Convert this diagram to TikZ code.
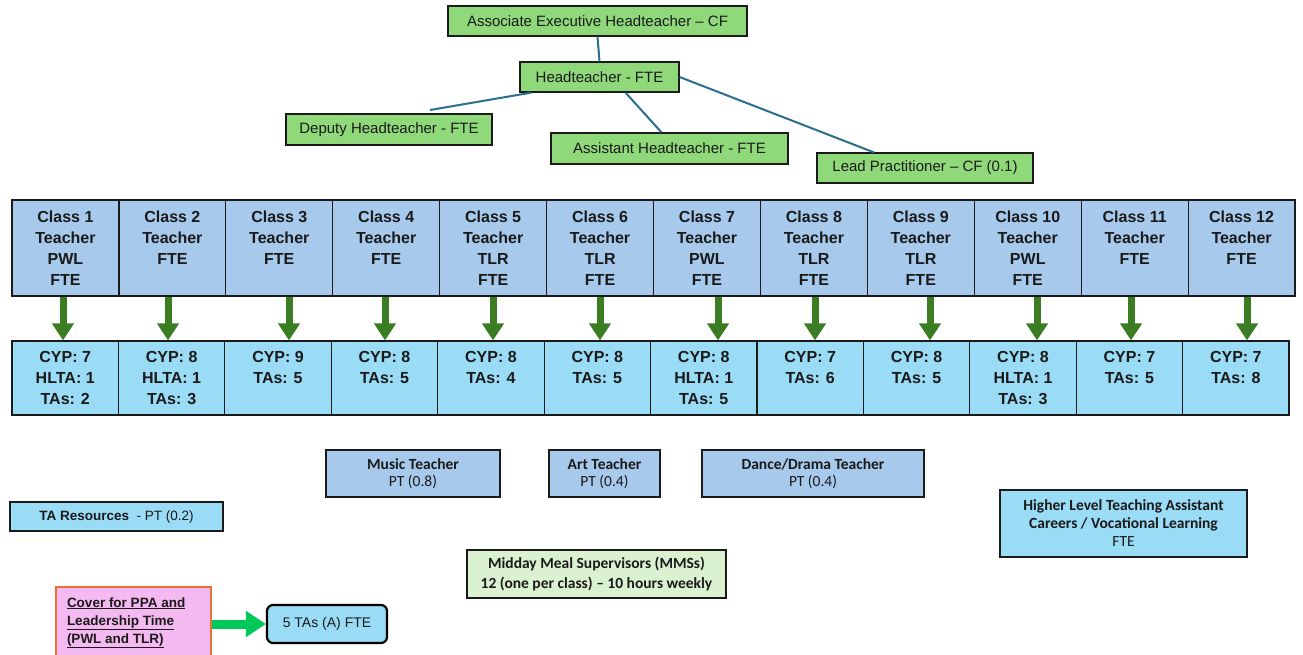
\documentclass[tikz,border=0pt]{standalone}
\usepackage{fontspec}
\setmainfont{Liberation Sans}
\newfontfamily\narrowf{Carlito}
\usetikzlibrary{arrows.meta,calc}
\definecolor{topgreen}{HTML}{8FD97A}
\definecolor{classblue}{HTML}{A6C9EC}
\definecolor{cyan}{HTML}{9ADBF5}
\definecolor{mintgreen}{HTML}{DAF2D0}
\definecolor{pinkfill}{HTML}{F4B9F0}
\definecolor{orangeline}{HTML}{E97132}
\definecolor{tealline}{HTML}{2B6E8F}
\definecolor{arrowgreen}{HTML}{3A7D22}
\definecolor{brightgreen}{HTML}{00C85A}
\definecolor{ink}{HTML}{1A1A1A}
\begin{document}
\begin{tikzpicture}[x=1pt,y=-1pt,
  basebox/.style={draw=ink, line width=1.2pt, inner sep=0pt, align=center, text=ink},
  topbox/.style={basebox, fill=topgreen, minimum height=30pt, font=\fontsize{15}{18}\selectfont},
  classbox/.style={basebox, fill=classblue, minimum width=106.92pt, minimum height=96pt, font=\bfseries\fontsize{16}{21}\selectfont},
  cypbox/.style={basebox, fill=cyan, minimum width=106.42pt, minimum height=74pt, font=\bfseries\fontsize{16}{21}\selectfont},
  subjbox/.style={basebox, fill=classblue, minimum height=47pt, font=\narrowf\fontsize{15.5}{17.5}\selectfont},
  conn/.style={draw=tealline, line width=2pt},
  garrow/.style={draw=arrowgreen, line width=7pt, -{Triangle[width=21pt,length=17pt]}, arrowgreen},
  barrow/.style={draw=brightgreen, line width=9pt, -{Triangle[width=25pt,length=20pt]}, brightgreen}
]
\useasboundingbox (0,0) rectangle (1303,654);
\fill[white] (0,0) rectangle (1303,654);

% top management
\node[topbox, minimum width=299pt] (assoc) at (597.5,21) {Associate Executive Headteacher – CF};
\node[topbox, minimum width=159pt] (ht) at (599.5,77) {Headteacher - FTE};
\node[topbox, minimum width=206pt, minimum height=31pt] (dep) at (389,129.5) {Deputy Headteacher - FTE};
\node[topbox, minimum width=237pt, minimum height=31pt] (asst) at (669.5,148.5) {Assistant Headteacher - FTE};
\node[topbox, minimum width=216pt] (lead) at (925,168) {Lead Practitioner – CF (0.1)};

\coordinate (depend) at (430,110);
\draw[conn] (assoc.south) -- (ht.north);
\draw[conn] ($(ht.south west)+(12,0)$) -- (depend);
\draw[conn] ($(ht.south)+(26,0)$) -- ($(asst.north)+(-8,0)$);
\draw[conn] (ht.east) -- ($(lead.north)+(-51,0)$);

% class teachers
\foreach \i/\txt in {
  1/{Class 1\\Teacher\\PWL\\FTE},
  2/{Class 2\\Teacher\\FTE\\~},
  3/{Class 3\\Teacher\\FTE\\~},
  4/{Class 4\\Teacher\\FTE\\~},
  5/{Class 5\\Teacher\\TLR\\FTE},
  6/{Class 6\\Teacher\\TLR\\FTE},
  7/{Class 7\\Teacher\\PWL\\FTE},
  8/{Class 8\\Teacher\\TLR\\FTE},
  9/{Class 9\\Teacher\\TLR\\FTE},
  10/{Class 10\\Teacher\\PWL\\FTE},
  11/{Class 11\\Teacher\\FTE\\~},
  12/{Class 12\\Teacher\\FTE\\~}}
{
  \node[classbox] (c\i) at ({12+106.92*(\i-0.5)},248) {\txt};
}

% pupils and TAs
\foreach \i/\txt in {
  1/{CYP: 7\\HLTA: 1\\TAs: 2},
  2/{CYP: 8\\HLTA: 1\\TAs: 3},
  3/{CYP: 9\\TAs: 5\\~},
  4/{CYP: 8\\TAs: 5\\~},
  5/{CYP: 8\\TAs: 4\\~},
  6/{CYP: 8\\TAs: 5\\~},
  7/{CYP: 8\\HLTA: 1\\TAs: 5},
  8/{CYP: 7\\TAs: 6\\~},
  9/{CYP: 8\\TAs: 5\\~},
  10/{CYP: 8\\HLTA: 1\\TAs: 3},
  11/{CYP: 7\\TAs: 5\\~},
  12/{CYP: 7\\TAs: 8\\~}}
{
  \node[cypbox] (l\i) at ({12+106.42*(\i-0.5)},378) {\txt};
}

% arrows teacher -> class
\foreach \i/\ax in {1/63,2/168,3/289,4/385,5/493,6/600,7/718,8/815,9/930,10/1037,11/1131,12/1247}
{
  \coordinate (a\i) at (\ax,0);
  \draw[garrow] (c\i.south -| a\i) -- (l\i.north -| a\i);
}

% specialist teachers
\node[subjbox, minimum width=174pt] (music) at (413,473.5) {\bfseries Music Teacher\\PT (0.8)};
\node[subjbox, minimum width=111pt] (art) at (604.5,473.5) {\bfseries Art Teacher\\PT (0.4)};
\node[subjbox, minimum width=222pt] (dance) at (813,473.5) {\bfseries Dance/Drama Teacher\\PT (0.4)};

\node[basebox, fill=cyan, minimum width=213pt, minimum height=29pt, font=\fontsize{13.5}{16}\selectfont] (tares) at (116.5,516.5) {\textbf{TA Resources}\ \ - PT (0.2)};

\node[basebox, fill=mintgreen, minimum width=259pt, minimum height=48pt, font=\narrowf\bfseries\fontsize{15.5}{20}\selectfont] (mms) at (596.5,574) {Midday Meal Supervisors (MMSs)\\12 (one per class) – 10 hours weekly};

\node[basebox, fill=cyan, minimum width=247pt, minimum height=67pt, font=\narrowf\fontsize{15.5}{18}\selectfont] (hlta) at (1123.5,523.5) {\bfseries Higher Level Teaching Assistant\\\bfseries Careers / Vocational Learning\\FTE};

% cover
\node[draw=orangeline, line width=1.2pt, fill=pinkfill, minimum width=155pt, minimum height=71pt, inner sep=0pt, align=left, text=ink, font=\bfseries\fontsize{13.5}{18}\selectfont] (cover) at (133.5,622.5)
  {\begin{minipage}{133pt}\raggedright\underline{Cover for PPA and}\\\underline{Leadership Time}\\\underline{(PWL and TLR)}\end{minipage}};
\node[draw=black, line width=2.2pt, fill=cyan, rounded corners=6pt, minimum width=120pt, minimum height=38pt, inner sep=0pt, text=ink, font=\fontsize{14}{16}\selectfont] (tas) at (327,624) {5 TAs (A) FTE};
\draw[barrow] (cover.east |- tas.west) -- (tas.west);
\end{tikzpicture}
\end{document}
